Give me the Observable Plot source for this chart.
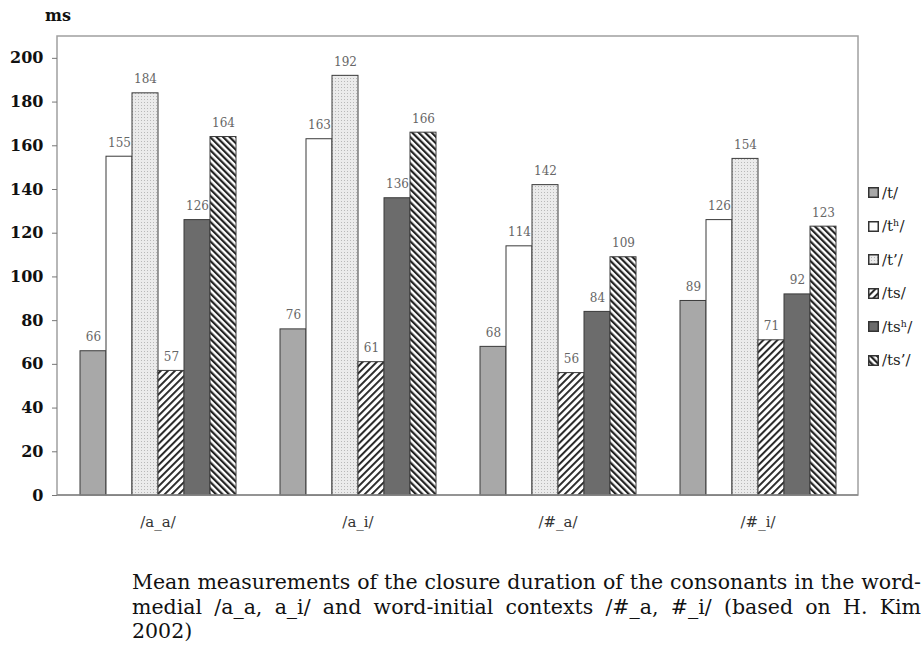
<!DOCTYPE html>
<html><head><meta charset="utf-8">
<script src="https://cdn.jsdelivr.net/npm/d3@7"></script>
<script src="https://cdn.jsdelivr.net/npm/@observablehq/plot@0.6"></script>
<style>
body{margin:0;background:#fff;font-family:"DejaVu Serif",serif;}
#wrap{position:relative;width:921px;height:662px;overflow:hidden;}
#ms{position:absolute;left:45px;top:6px;font-weight:bold;font-size:16px;color:#111;font-family:"DejaVu Serif",serif;}
#legend{position:absolute;left:868px;top:176px;font-family:"DejaVu Serif",serif;}
.li{height:33.5px;display:flex;align-items:center;font-size:15px;color:#222;white-space:nowrap;}
.li svg{margin-right:3px;flex:none;}
#caption{position:absolute;left:132px;top:570px;width:789px;font-size:20.5px;line-height:24.5px;color:#111;font-family:"DejaVu Serif",serif;}
#caption .j{text-align:justify;text-align-last:justify;}
</style></head>
<body>
<div id="wrap">
<div id="chart"></div>
<div id="ms">ms</div>
<div id="legend"></div>
<div id="caption">
<div class="j">Mean measurements of the closure duration of the consonants in the word-</div>
<div class="j">medial /a_a, a_i/ and word-initial contexts /#_a, #_i/ (based on H. Kim</div>
<div>2002)</div>
</div>
</div>
<script>
const contexts = ["/a_a/", "/a_i/", "/#_a/", "/#_i/"];
const series = ["/t/", "/tʰ/", "/t’/", "/ts/", "/tsʰ/", "/ts’/"];
const tPlain  = [66, 76, 68, 89];
const tAsp    = [155, 163, 114, 126];
const tTense  = [184, 192, 142, 154];
const tsPlain = [57, 61, 56, 71];
const tsAsp   = [126, 136, 84, 92];
const tsTense = [164, 166, 109, 123];
const yTicks = [0, 20, 40, 60, 80, 100, 120, 140, 160, 180, 200];

const seriesValues = [tPlain, tAsp, tTense, tsPlain, tsAsp, tsTense];
const data = contexts.flatMap((c, i) =>
  series.map((s, j) => ({context: c, series: s, value: seriesValues[j][i]})));

const fills = {
  "/t/": "#a8a8a8",
  "/tʰ/": "#ffffff",
  "/t’/": "url(#pDot)",
  "/ts/": "url(#pTs)",
  "/tsʰ/": "#6c6c6c",
  "/ts’/": "url(#pTsT)"
};

const W = 921, H = 545, ML = 57, MR = 63, MT = 36, MB = 50;
const OUTER = 20; // gap between frame and first/last group
const serif = "'DejaVu Serif', serif";

const svg = Plot.plot({
  width: W, height: H,
  marginLeft: ML + OUTER, marginRight: MR + OUTER, marginTop: MT, marginBottom: MB,
  style: {fontFamily: serif, background: "transparent", color: "#111"},
  fx: {domain: contexts, paddingInner: 0.195, paddingOuter: 0, label: null},
  x: {domain: series, padding: 0, axis: null},
  y: {domain: [0, 210], axis: null},
  color: {type: "identity"},
  marks: [
    Plot.axisY({ticks: yTicks, tickSize: 5, tickPadding: 9, dx: -OUTER, fontSize: 16, fontWeight: "bold", fontFamily: serif, stroke: "#777", fill: "#111", label: null}),
    Plot.axisFx({anchor: "bottom", tickSize: 0, tickPadding: 21, fontSize: 15, fontFamily: serif, label: null, fill: "#333"}),
    Plot.barY(data, {fx: "context", x: "series", y: "value", fill: d => fills[d.series], stroke: "#3a3a3a", strokeWidth: 1}),
    Plot.text(data, {fx: "context", x: "series", y: "value", text: d => String(d.value), dy: -14, fontSize: 12, fontFamily: serif, fill: "#666"})
  ]
});

const s = d3.select(svg);
const defs = s.insert("defs", ":first-child");
// dotted light gray
const pd = defs.append("pattern").attr("id", "pDot").attr("patternUnits", "userSpaceOnUse").attr("width", 3).attr("height", 3);
pd.append("rect").attr("width", 3).attr("height", 3).attr("fill", "#ebebeb");
pd.append("rect").attr("width", 1).attr("height", 1).attr("fill", "#b8b8b8");
// "/" hatch
const p1 = defs.append("pattern").attr("id", "pTs").attr("patternUnits", "userSpaceOnUse").attr("width", 5).attr("height", 5).attr("patternTransform", "rotate(45)");
p1.append("rect").attr("width", 5).attr("height", 5).attr("fill", "#fff");
p1.append("rect").attr("width", 1.9).attr("height", 5).attr("fill", "#222");
// "\" hatch denser
const p2 = defs.append("pattern").attr("id", "pTsT").attr("patternUnits", "userSpaceOnUse").attr("width", 4.6).attr("height", 4.6).attr("patternTransform", "rotate(-45)");
p2.append("rect").attr("width", 4.6).attr("height", 4.6).attr("fill", "#fff");
p2.append("rect").attr("width", 2.2).attr("height", 4.6).attr("fill", "#222");

// plot frame (outer box around all groups)
s.insert("rect", "defs + *")
  .attr("x", ML).attr("y", MT).attr("width", W - ML - MR).attr("height", H - MT - MB)
  .attr("fill", "none").attr("stroke", "#a0a0a0").attr("stroke-width", 1.5);
s.append("line").attr("x1", ML).attr("x2", W - MR).attr("y1", H - MB).attr("y2", H - MB)
  .attr("stroke", "#888").attr("stroke-width", 1.5);

document.getElementById("chart").appendChild(svg);

// legend
const lg = d3.select("#legend");
for (const name of series) {
  const row = lg.append("div").attr("class", "li");
  const sw = row.append("svg").attr("width", 11).attr("height", 11);
  sw.append("rect").attr("x", 0.75).attr("y", 0.75).attr("width", 9.5).attr("height", 9.5)
    .attr("fill", fills[name]).attr("stroke", "#333").attr("stroke-width", 1.5);
  row.append("span").text(name);
}
</script>
</body></html>
